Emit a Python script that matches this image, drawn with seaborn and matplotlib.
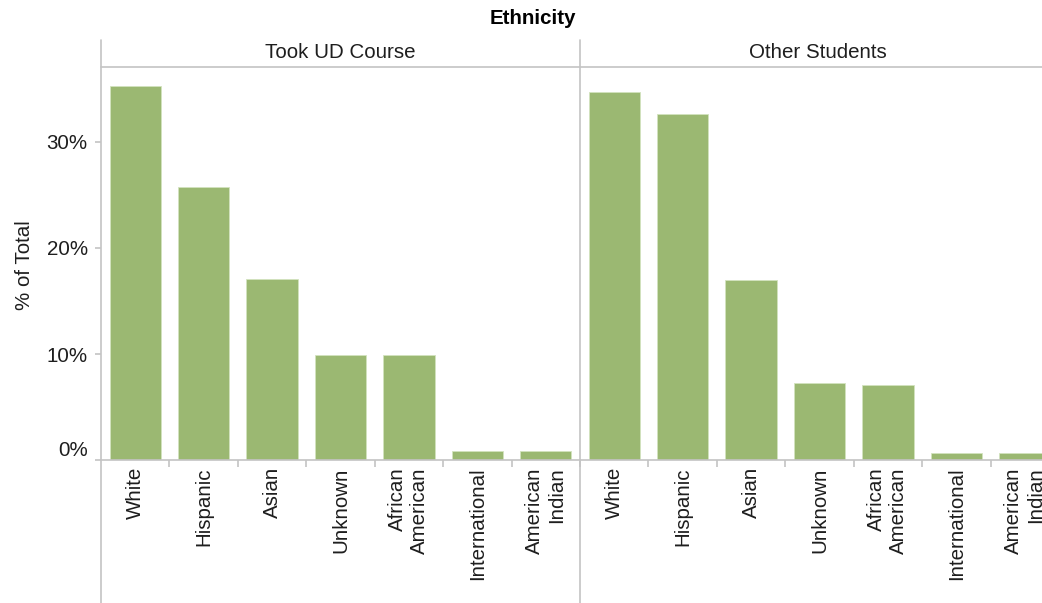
import matplotlib
matplotlib.use("Agg")
import matplotlib.pyplot as plt
import matplotlib.transforms as mtransforms
import seaborn as sns
import pandas as pd
from matplotlib.lines import Line2D
from matplotlib.ticker import FixedLocator, FuncFormatter

# ---- data ----
categories = ["White", "Hispanic", "Asian", "Unknown", "African\nAmerican",
              "International", "American\nIndian"]
took_ud = [35.3, 25.75, 17.1, 9.95, 9.95, 0.9, 0.9]
other_students = [34.7, 32.6, 17.0, 7.25, 7.1, 0.65, 0.65]
panels = ["Took UD Course", "Other Students"]
yticks = [0, 10, 20, 30]
title = "Ethnicity"
ylabel = "% of Total"

# ---- style ----
GREEN = "#9bb872"
LINE = "#c4c4c4"
TEXT = "#1e1e1e"
FS = 14.8
W, H = 1042, 603

sns.set_theme(style="white")
plt.rcParams["font.family"] = ["Liberation Sans", "DejaVu Sans"]
plt.rcParams["text.color"] = TEXT


def fx(px):
    return px / W


def fy(py):
    return 1 - py / H


df = pd.DataFrame({
    "Ethnicity": categories * 2,
    "Pct": took_ud + other_students,
    "Group": [panels[0]] * len(categories) + [panels[1]] * len(categories),
})

fig = plt.figure(figsize=(W / 100, H / 100), dpi=100)
fig.patch.set_facecolor("white")

y_base, y_top = 460.2, 67.3
panel_w = 479
for i, grp in enumerate(panels):
    x0 = 101 + i * panel_w
    ax = fig.add_axes([fx(x0), fy(y_base), panel_w / W, (y_base - y_top) / H])
    sns.barplot(data=df[df.Group == grp], x="Ethnicity", y="Pct", order=categories,
                color=GREEN, saturation=1, width=0.75, edgecolor="#d3e3bf",
                linewidth=0.6, ax=ax)
    ax.set_xlim(-0.5, len(categories) - 0.5)
    ax.set_ylim(0, 37.03)
    ax.set_xlabel("")
    ax.set_ylabel("")
    ax.set_facecolor("none")
    for s in ["top", "right", "left"]:
        ax.spines[s].set_visible(False)
    ax.spines["bottom"].set_color(LINE)
    ax.spines["bottom"].set_linewidth(1.2)

    ax.set_xticks(range(len(categories)))
    ax.set_xticklabels(categories, rotation=90, va="top", ha="center",
                       multialignment="right", fontsize=FS, color=TEXT)
    ax.xaxis.set_minor_locator(FixedLocator([k + 0.5 for k in range(len(categories))]))
    ax.tick_params(axis="x", which="major", length=0, pad=5)
    ax.tick_params(axis="x", which="minor", length=5, width=1.2, color=LINE,
                   direction="out", bottom=True)

    if i == 0:
        ax.set_yticks(yticks)
        ax.yaxis.set_major_formatter(FuncFormatter(lambda v, p: f"{v:.0f}%"))
        ax.tick_params(axis="y", length=4.5, width=1.2, color=LINE, left=True,
                       pad=5, labelsize=FS, labelcolor=TEXT)
        # Tableau keeps the lowest label inside the pane: nudge it up
        fig.canvas.draw()
        lab0 = ax.get_yticklabels()[0]
        lab0.set_transform(lab0.get_transform() +
                           mtransforms.ScaledTranslation(0, 12 / 100, fig.dpi_scale_trans))
    else:
        ax.set_yticks([])
    ax.grid(False)

# frame lines
for xv in (101, 580):
    fig.add_artist(Line2D([fx(xv), fx(xv)], [fy(40), fy(603)],
                          transform=fig.transFigure, color=LINE, lw=1.2))
fig.add_artist(Line2D([fx(101), 1.0], [fy(67.3), fy(67.3)],
                      transform=fig.transFigure, color=LINE, lw=1.2))

# headers and titles
fig.text(fx(340.5), fy(52), panels[0], ha="center", va="center", fontsize=FS, color=TEXT)
fig.text(fx(817.5), fy(52), panels[1], ha="center", va="center", fontsize=FS, color=TEXT)
fig.text(fx(533), fy(19), title, ha="center", va="center", fontsize=FS,
         fontweight="bold", color="#000000")
fig.text(fx(25), fy(265), ylabel, rotation=90, ha="center", va="center",
         fontsize=FS, color=TEXT)

fig.savefig("out.png", dpi=100)
